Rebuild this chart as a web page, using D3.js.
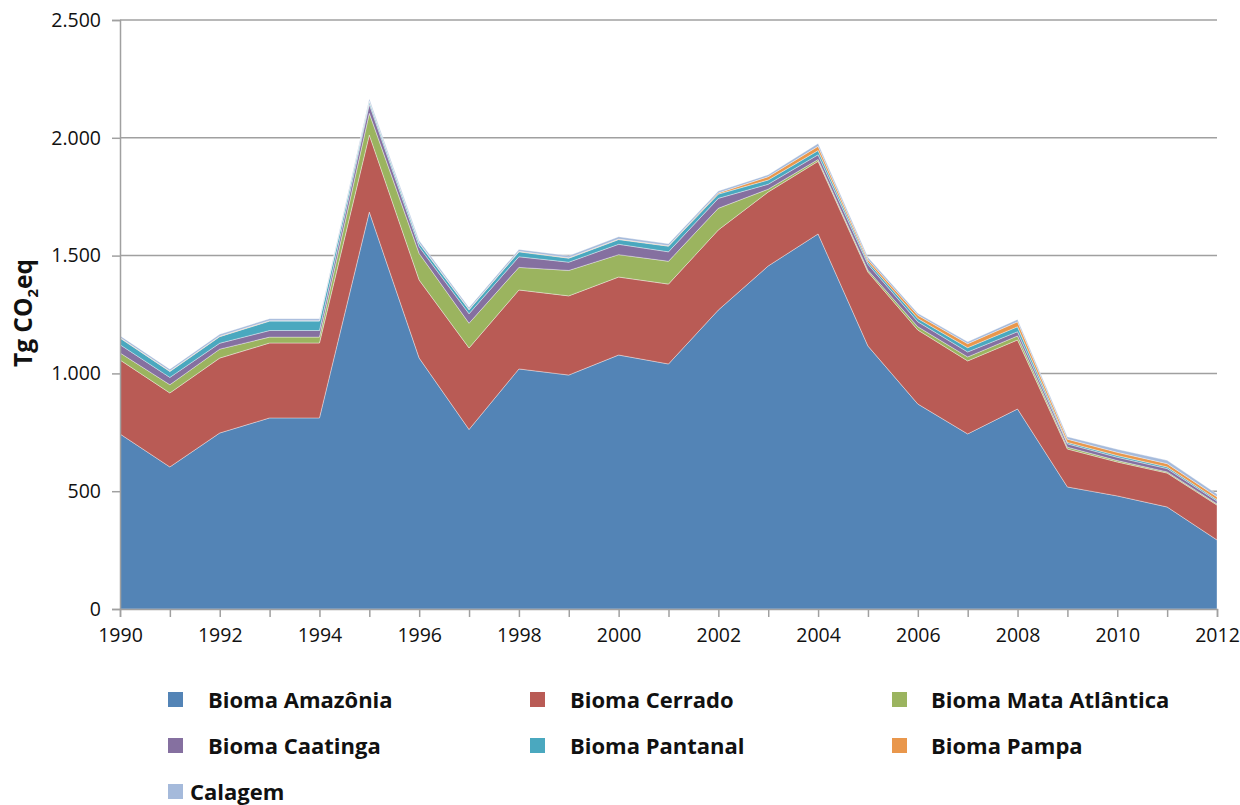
<!DOCTYPE html>
<html>
<head>
<meta charset="utf-8">
<script src="https://cdn.jsdelivr.net/npm/d3@7"></script>
<style>
  html, body { margin: 0; padding: 0; background: #fff; }
  svg { display: block; font-family: "Open Sans", Lato, sans-serif; }
</style>
</head>
<body>
<svg id="chart" width="1240" height="805"></svg>
<script>
// Emissões por bioma, Tg CO2eq, 1990–2012
const years = [1990,1991,1992,1993,1994,1995,1996,1997,1998,1999,2000,2001,2002,2003,2004,2005,2006,2007,2008,2009,2010,2011,2012];
const amazonia = [743,603,747,811,811,1685,1065,762,1019,993,1078,1040,1269,1456,1592,1116,870,743,849,518,480,433,293];
const cerrado  = [314,314,318,318,318,327,331,346,335,336,331,339,340,314,308,314,314,310,293,161,144,144,148];
const mataAtlantica = [30,35,38,25,25,92,113,105,96,108,95,97,92,12,8,8,14,17,17,8,6,5,5];
const caatinga = [35,31,25,28,28,38,28,40,45,35,44,40,42,21,20,25,21,21,18,14,14,14,12];
const pantanal = [28,25,28,40,40,12,15,17,21,17,20,24,18,18,18,10,14,18,21,6,7,7,6];
const pampa    = [2,2,2,2,2,2,2,2,2,2,2,2,5,14,18,10,14,17,21,14,14,14,12];
const calagem  = [8,8,8,8,8,10,10,8,8,8,10,8,8,8,12,10,8,8,10,10,13,14,12];

const seriesNames = ["Bioma Amazônia","Bioma Cerrado","Bioma Mata Atlântica","Bioma Caatinga","Bioma Pantanal","Bioma Pampa","Calagem"];
const seriesValues = [amazonia, cerrado, mataAtlantica, caatinga, pantanal, pampa, calagem];
const colors = ["#5384b6","#b95b55","#9bb45f","#8570a0","#4aa8bf","#e9974c","#a5badb"];
const yTicks = [0,500,1000,1500,2000,2500];
const xLabelYears = [1990,1992,1994,1996,1998,2000,2002,2004,2006,2008,2010,2012];

const rows = years.map((y, i) => {
  const r = { year: y };
  seriesNames.forEach((n, k) => r[n] = seriesValues[k][i]);
  return r;
});

const FONT = '"Open Sans", Lato, sans-serif';
const svg = d3.select("#chart");
const margin = { left: 120, right: 23, top: 20, bottom: 196 };
const W = 1240, H = 805;

const x = d3.scaleLinear().domain([1990, 2012]).range([margin.left, W - margin.right]);
const y = d3.scaleLinear().domain([0, 2500]).range([H - margin.bottom, margin.top]);

// horizontal gridlines
svg.append("g").selectAll("line").data(yTicks.filter(d => d > 0)).join("line")
  .attr("x1", x(1990)).attr("x2", x(2012))
  .attr("y1", d => y(d)).attr("y2", d => y(d))
  .attr("stroke", "#a0a0a0").attr("stroke-width", 1.5);

// stacked areas
const stack = d3.stack().keys(seriesNames);
const layers = stack(rows);
const area = d3.area()
  .x(d => x(d.data.year))
  .y0(d => y(d[0]))
  .y1(d => y(d[1]));

svg.append("g").selectAll("path").data(layers).join("path")
  .attr("d", area)
  .attr("fill", (d, i) => colors[i])
  .attr("stroke", "#ffffff")
  .attr("stroke-opacity", 0.45)
  .attr("stroke-width", 0.8);

// y axis
const yAxis = d3.axisLeft(y).tickValues(yTicks).tickSize(8).tickPadding(11)
  .tickFormat(d => d3.format(",")(d).replace(/,/g, "."));
const gy = svg.append("g").attr("transform", `translate(${x(1990)},0)`).call(yAxis)
  .attr("font-family", FONT);
gy.selectAll("path, line").attr("stroke", "#a0a0a0").attr("stroke-width", 1.5);
gy.selectAll("text").attr("font-size", 19.5).attr("fill", "#111");

// x axis
const xAxis = d3.axisBottom(x).tickValues(years).tickSize(8).tickPadding(11)
  .tickFormat(d => xLabelYears.includes(d) ? String(d) : "");
const gx = svg.append("g").attr("transform", `translate(0,${y(0)})`).call(xAxis)
  .attr("font-family", FONT);
gx.selectAll("path, line").attr("stroke", "#a0a0a0").attr("stroke-width", 1.5);
gx.selectAll("text").attr("font-size", 19.5).attr("fill", "#111");

// y-axis title
const title = svg.append("text")
  .attr("transform", `translate(32,313) rotate(-90)`)
  .attr("text-anchor", "middle")
  .attr("font-size", 24.5).attr("font-weight", "bold").attr("fill", "#111");
title.append("tspan").text("Tg CO");
title.append("tspan").attr("font-size", 15).attr("dy", 6).text("2");
title.append("tspan").attr("dy", -6).text("eq");

// legend
const legendPos = [
  { sx: 168, tx: 208, cy: 700 },
  { sx: 530, tx: 570, cy: 700 },
  { sx: 892, tx: 931, cy: 700 },
  { sx: 168, tx: 208, cy: 746 },
  { sx: 530, tx: 570, cy: 746 },
  { sx: 892, tx: 931, cy: 746 },
  { sx: 168, tx: 190, cy: 792 }
];
const lg = svg.append("g");
seriesNames.forEach((n, i) => {
  const p = legendPos[i];
  lg.append("rect").attr("x", p.sx).attr("y", p.cy - 8).attr("width", 15).attr("height", 15).attr("fill", colors[i]);
  lg.append("text").attr("x", p.tx).attr("y", p.cy + 8)
    .attr("font-size", 22).attr("font-weight", "bold").attr("fill", "#111").text(n);
});
</script>
</body>
</html>
